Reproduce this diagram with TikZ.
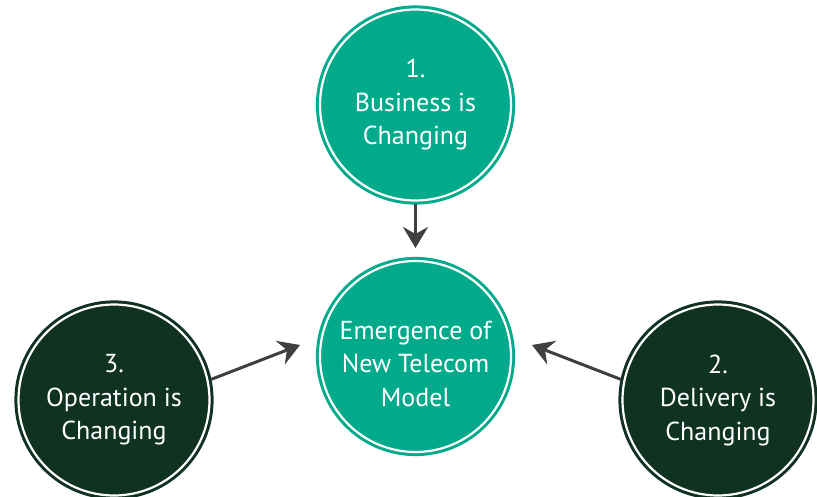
\documentclass[tikz,border=0pt]{standalone}
\usepackage{fontspec}
\setmainfont{PT Sans}
\usepackage{tikz}
\usetikzlibrary{arrows.meta}
\usetikzlibrary{calc}

\definecolor{telgreen}{RGB}{0,170,139}
\definecolor{teldark}{RGB}{16,50,34}
\definecolor{telarrow}{RGB}{64,64,66}

\begin{document}
\begin{tikzpicture}[x=1pt, y=-1pt,
        bubble/.style={circle, minimum size=191pt, inner sep=0pt, outer sep=4pt,
            line width=3pt, double=white, double distance=2.2pt,
            text=white, align=center, font=\fontsize{26}{33.5}\selectfont},
        greenbubble/.style={bubble, fill=telgreen, draw=telgreen},
        darkbubble/.style={bubble, fill=teldark, draw=teldark},
        link/.style={draw=telarrow, line width=3pt,
            -{Stealth[length=21pt, width=25pt, inset=7pt]}}]
        \useasboundingbox (0, 0) rectangle (817, 497);

        \node[greenbubble] (business) at (415.5, 105) {1.\\Business is\\Changing};
        \node[greenbubble] (emergence) at (415.5, 356.5)
            {\raisebox{-16pt}[0pt][0pt]{\begin{tabular}{@{}c@{}}Emergence of\\New Telecom\\Model\end{tabular}}};
        \node[darkbubble] (operation) at (114, 400) {3.\\Operation is\\Changing};
        \node[darkbubble] (delivery) at (718, 400) {2.\\Delivery is\\Changing};

        \coordinate (tipB) at (415.5, 248);
        \coordinate (tipO) at (300, 345);
        \coordinate (tipD) at (532, 345);

        \draw[link] (business.south) -- (tipB);
        \draw[link] (operation.12) -- (tipO);
        \draw[link] (delivery.168) -- (tipD);
    \end{tikzpicture}
\end{document}
